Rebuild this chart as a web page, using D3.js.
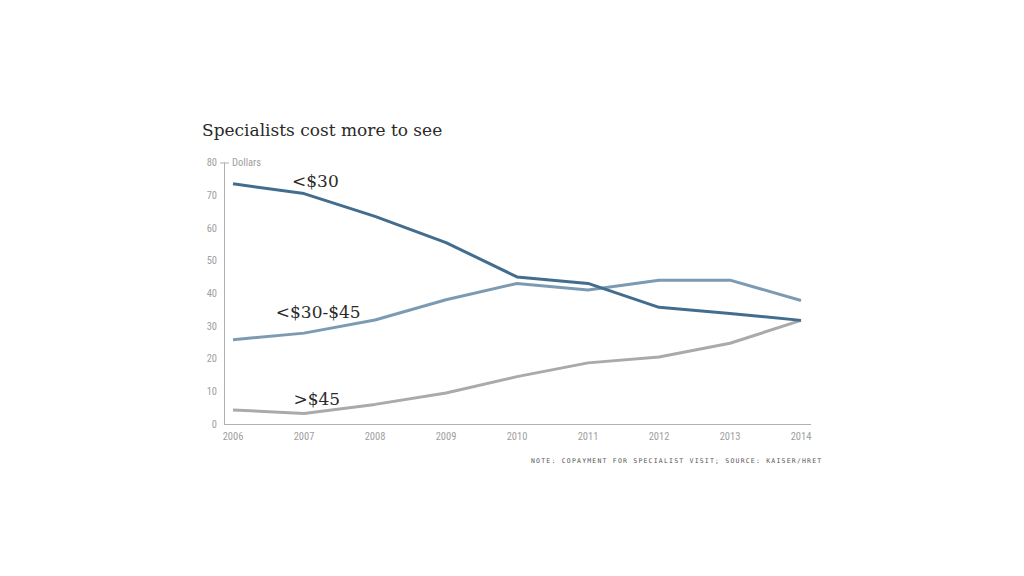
<!DOCTYPE html>
<html><head><meta charset="utf-8">
<script src="https://cdn.jsdelivr.net/npm/d3@7"></script>
<style>body{margin:0;background:#fff;}</style>
</head><body>
<svg id="c" width="1024" height="576"></svg>
<script>
const years = [2006, 2007, 2008, 2009, 2010, 2011, 2012, 2013, 2014];
const under30 = [73.5, 70.5, 63.5, 55.5, 45, 43, 35.7, 33.8, 31.7];
const mid30to45 = [25.8, 27.8, 31.8, 38, 43, 41, 44, 44, 37.8];
const over45 = [4.3, 3.2, 6, 9.5, 14.5, 18.7, 20.5, 24.7, 31.7];
const yTicks = [0, 10, 20, 30, 40, 50, 60, 70, 80];
const seriesNames = ["<$30", "<$30-$45", ">$45"];
const title = "Specialists cost more to see";
const note = "NOTE: COPAYMENT FOR SPECIALIST VISIT; SOURCE: KAISER/HRET";

const svg = d3.select("#c");
const x = d3.scaleLinear().domain([2006, 2014]).range([233, 801]);
const y = d3.scaleLinear().domain([0, 80]).range([424, 162.5]);
const tickFont = "'Liberation Sans Narrow', 'Roboto Condensed', 'Roboto', sans-serif";

svg.append("text").attr("x", 202).attr("y", 136)
  .attr("font-family", "'DejaVu Serif', serif").attr("font-size", 17)
  .attr("fill", "#2a2a2a").text(title);

// axes lines
svg.append("line").attr("x1", 224.5).attr("x2", 224.5).attr("y1", y(80)).attr("y2", 424.5)
  .attr("stroke", "#b0b0b0").attr("stroke-width", 1);
svg.append("line").attr("x1", 220).attr("x2", 229).attr("y1", y(80)+0.5).attr("y2", y(80)+0.5)
  .attr("stroke", "#b0b0b0").attr("stroke-width", 1);
svg.append("line").attr("x1", 224).attr("x2", 811).attr("y1", 424.5).attr("y2", 424.5)
  .attr("stroke", "#b0b0b0").attr("stroke-width", 1);

// y tick labels
svg.append("g").selectAll("text").data(yTicks).join("text")
  .attr("x", 217).attr("y", d => y(d)).attr("dy", "0.35em")
  .attr("text-anchor", "end").attr("font-family", tickFont).attr("font-size", 10.5)
  .attr("fill", "#a0a0a0").text(d => d);
svg.append("text").attr("x", 232).attr("y", y(80)).attr("dy", "0.35em")
  .attr("font-family", tickFont).attr("font-size", 10.5).attr("fill", "#a0a0a0").text("Dollars");

// x tick labels
svg.append("g").selectAll("text").data(years).join("text")
  .attr("x", d => x(d)).attr("y", 440).attr("text-anchor", "middle")
  .attr("font-family", tickFont).attr("font-size", 10.5).attr("fill", "#a0a0a0").text(d => d);

const line = d3.line().x((d, i) => x(years[i])).y(d => y(d));
const series = [
  {vals: over45, color: "#aaaaaa"},
  {vals: mid30to45, color: "#7c9bb3"},
  {vals: under30, color: "#426d8f"}
];
svg.append("g").selectAll("path").data(series).join("path")
  .attr("d", d => line(d.vals)).attr("fill", "none")
  .attr("stroke", d => d.color).attr("stroke-width", 3).attr("stroke-linejoin", "round");

// series labels
const labelPos = [
  {name: seriesNames[0], yr: 2007.16, v: under30[1], dy: -7},
  {name: seriesNames[1], yr: 2007.2, v: mid30to45[1], dy: -15},
  {name: seriesNames[2], yr: 2007.18, v: over45[1], dy: -9}
];
svg.append("g").selectAll("text").data(labelPos).join("text")
  .attr("x", d => x(d.yr)).attr("y", d => y(d.v) + d.dy)
  .attr("text-anchor", "middle").attr("font-family", "'DejaVu Serif', serif")
  .attr("font-size", 17).attr("fill", "#2a2a2a").text(d => d.name);

svg.append("text").attr("x", 531).attr("y", 463)
  .attr("font-family", "'DejaVu Sans Mono', monospace").attr("font-size", 6.5)
  .attr("letter-spacing", 1.2).attr("fill", "#555").text(note);
</script>
</body></html>
